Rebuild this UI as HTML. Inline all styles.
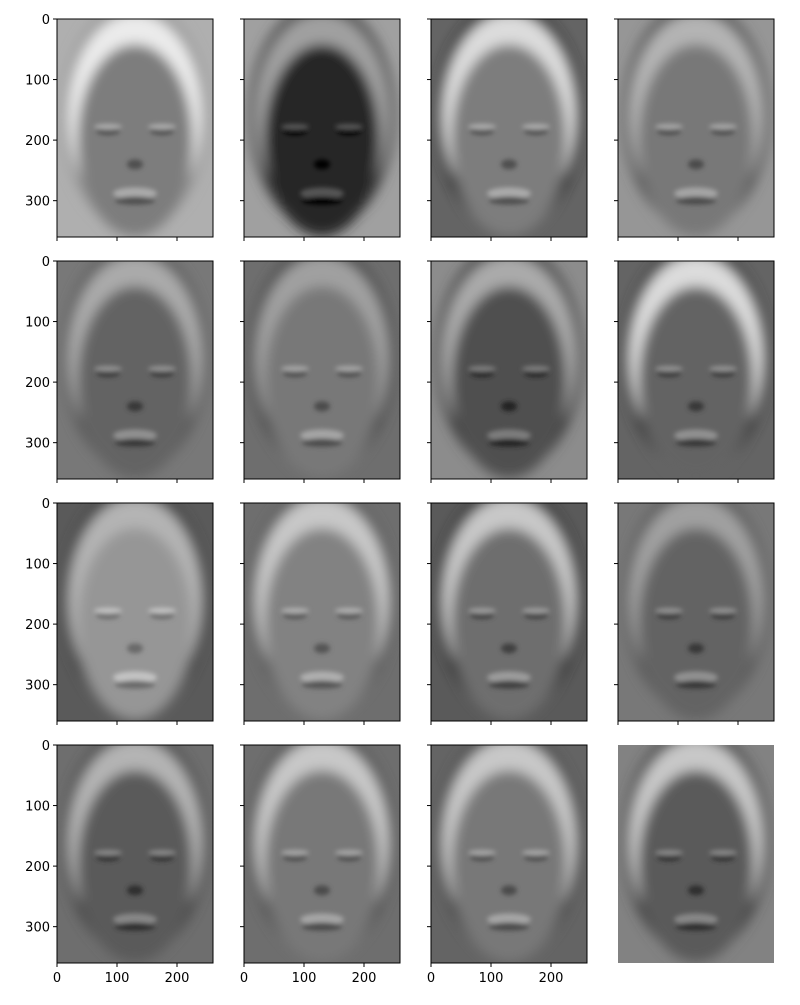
<!DOCTYPE html>
<html><head><meta charset="utf-8"><style>
body{margin:0;background:#fff;}
svg text{font-family:"DejaVu Sans","Liberation Sans",sans-serif;font-size:13px;fill:#000;}
</style></head><body>
<svg id="fig" width="800" height="1000" xmlns="http://www.w3.org/2000/svg">
<defs>
<filter id="blur" x="-20%" y="-20%" width="140%" height="140%"><feGaussianBlur stdDeviation="6"/></filter>
<filter id="blur2" x="-20%" y="-20%" width="140%" height="140%"><feGaussianBlur stdDeviation="2.5"/></filter>
</defs>
</svg>
<script>
// per-panel gray tones (0-255)
const bgTone   = [175,160,100,150,120,110,140,100, 90,110, 90,120,110,110,100,130];
const faceTone = [125, 40,125,120,100,120, 80,100,150,130,110,100, 90,120,120, 90];
const bandTone = [235,160,220,180,170,160,170,220,180,200,200,160,180,200,200,200];
const hairTone = [150, 70, 30, 80, 90, 70, 60, 50, 60, 90, 40, 90, 70, 80, 70, 60];
const yTicks = [0,100,200,300];
const xTicks = [0,100,200];
const svg = document.getElementById('fig');
const NS = 'http://www.w3.org/2000/svg';
const colX = [57,244,431,618], rowY = [19,261,503,745];
const W = 156, H = 218, imgW = 260, imgH = 360;
function g(v){v=Math.max(0,Math.min(255,Math.round(v)));return `rgb(${v},${v},${v})`;}
function el(tag, attrs, parent){const e=document.createElementNS(NS,tag);for(const k in attrs)e.setAttribute(k,attrs[k]);(parent||svg).appendChild(e);return e;}
for(let i=0;i<16;i++){
  const r=Math.floor(i/4), c=i%4, x0=colX[c], y0=rowY[r];
  const sx=v=>x0+v/imgW*W, sy=v=>y0+v/imgH*H;
  const grp=el('g',{});
  
  
  const cp=el('clipPath',{id:'cp'+i},grp);
  el('rect',{x:x0,y:y0,width:W,height:H},cp);
  const img=el('g',{'clip-path':`url(#cp${i})`},grp);
  el('rect',{x:x0,y:y0,width:W,height:H,fill:g(bgTone[i])},img);
  const b=el('g',{filter:'url(#blur)'},img);
  el('ellipse',{cx:sx(130),cy:sy(160),rx:W*0.47,ry:H*0.52,fill:g(hairTone[i])},b);
  el('ellipse',{cx:sx(130),cy:sy(160),rx:W*0.43,ry:H*0.47,fill:g(bandTone[i])},b);
  el('ellipse',{cx:sx(130),cy:sy(200),rx:W*0.37,ry:H*0.44,fill:g(faceTone[i])},b);
  const d=el('g',{filter:'url(#blur2)'},img);
  const dark=g(faceTone[i]-45), lite=g(faceTone[i]+45);
  el('ellipse',{cx:sx(85),cy:sy(185),rx:12,ry:4,fill:dark},d);
  el('ellipse',{cx:sx(175),cy:sy(185),rx:12,ry:4,fill:dark},d);
  el('ellipse',{cx:sx(85),cy:sy(178),rx:14,ry:3,fill:lite},d);
  el('ellipse',{cx:sx(175),cy:sy(178),rx:14,ry:3,fill:lite},d);
  el('ellipse',{cx:sx(130),cy:sy(240),rx:8,ry:5,fill:dark},d);
  el('ellipse',{cx:sx(130),cy:sy(288),rx:22,ry:6,fill:lite},d);
  el('ellipse',{cx:sx(130),cy:sy(300),rx:20,ry:4,fill:dark},d);
  if(i===15) continue;
  const ax=el('rect',{x:x0,y:y0,width:W,height:H,fill:'none',stroke:'#000','stroke-width':1},grp);
  
  
  for(const t of yTicks){
    el('line',{x1:x0-4,x2:x0,y1:sy(t),y2:sy(t),stroke:'#000'},grp);
    if(c===0){const tx=el('text',{x:x0-7,y:sy(t)+5,'text-anchor':'end'},grp);tx.textContent=t;
      
      }
  }
  for(const t of xTicks){
    el('line',{x1:sx(t),x2:sx(t),y1:y0+H,y2:y0+H+4,stroke:'#000'},grp);
    if(r===3){const tx=el('text',{x:sx(t),y:y0+H+19,'text-anchor':'middle'},grp);tx.textContent=t;
      
      }
  }
}
</script>
</body></html>
